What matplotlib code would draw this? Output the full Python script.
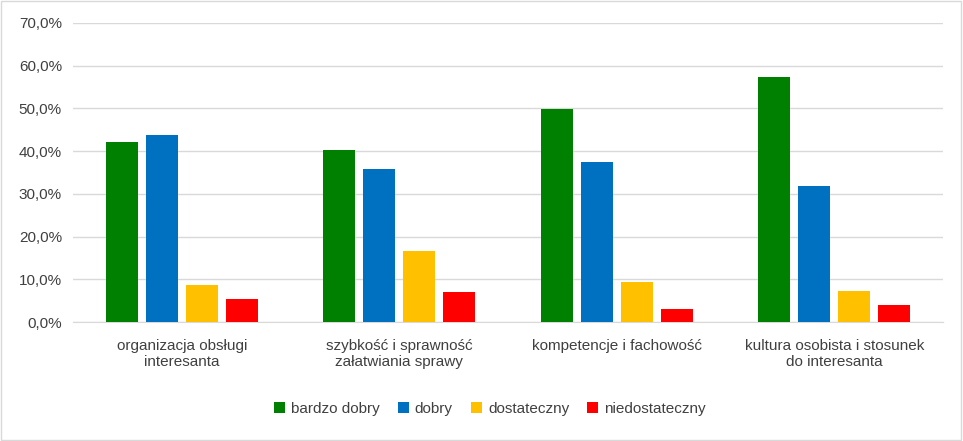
import matplotlib
matplotlib.use("Agg")
import matplotlib.pyplot as plt
import numpy as np

categories = ["organizacja obsługi\ninteresanta", "szybkość i sprawność\nzałatwiania sprawy",
              "kompetencje i fachowość", "kultura osobista i stosunek\ndo interesanta"]
series_names = ["bardzo dobry", "dobry", "dostateczny", "niedostateczny"]
bardzo_dobry = [42.2, 40.3, 49.9, 57.4]
dobry = [43.8, 35.8, 37.5, 31.9]
dostateczny = [8.7, 16.6, 9.4, 7.3]
niedostateczny = [5.4, 7.0, 3.0, 4.0]
values = [bardzo_dobry, dobry, dostateczny, niedostateczny]
colors = ["#008000", "#0070C0", "#FFC000", "#FF0000"]

plt.rcParams["font.family"] = "Liberation Sans"
fig = plt.figure(figsize=(9.63, 4.41), dpi=100)
ax = fig.add_axes([73/963, 1-322/441, 870/963, 299/441])
x = np.arange(len(categories))
w = 0.147
step = 0.184
for i, (name, vals, c) in enumerate(zip(series_names, values, colors)):
    ax.bar(x + (i - 1.5) * step, vals, width=w, color=c, label=name, zorder=3)
ax.set_xlim(-0.5, 3.5)
ax.set_ylim(0, 70)
ax.set_yticks(np.arange(0, 71, 10))
ax.set_yticklabels([f"{v:.1f}%".replace(".", ",") for v in np.arange(0, 71, 10)], fontsize=11, color="#404040")
ax.set_xticks(x)
ax.set_xticklabels(categories, fontsize=11, color="#404040")
ax.tick_params(length=0, pad=8)
ax.tick_params(axis="x", pad=12)
ax.grid(axis="y", color="#D9D9D9", linewidth=1, zorder=0)
for s in ["top", "right", "left"]:
    ax.spines[s].set_visible(False)
ax.spines["bottom"].set_color("#D9D9D9")
fig.legend(loc="center", bbox_to_anchor=(490/963, 1-409/441), ncol=4, frameon=False,
           fontsize=11, handlelength=0.7, handleheight=0.7, columnspacing=1.2, handletextpad=0.4,
           labelcolor="#404040")
fig.patches.append(plt.Rectangle((0.001, 0.002), 0.997, 0.996, transform=fig.transFigure,
                                 fill=False, edgecolor="#D9D9D9", linewidth=1))
fig.savefig("out.png", dpi=100)
